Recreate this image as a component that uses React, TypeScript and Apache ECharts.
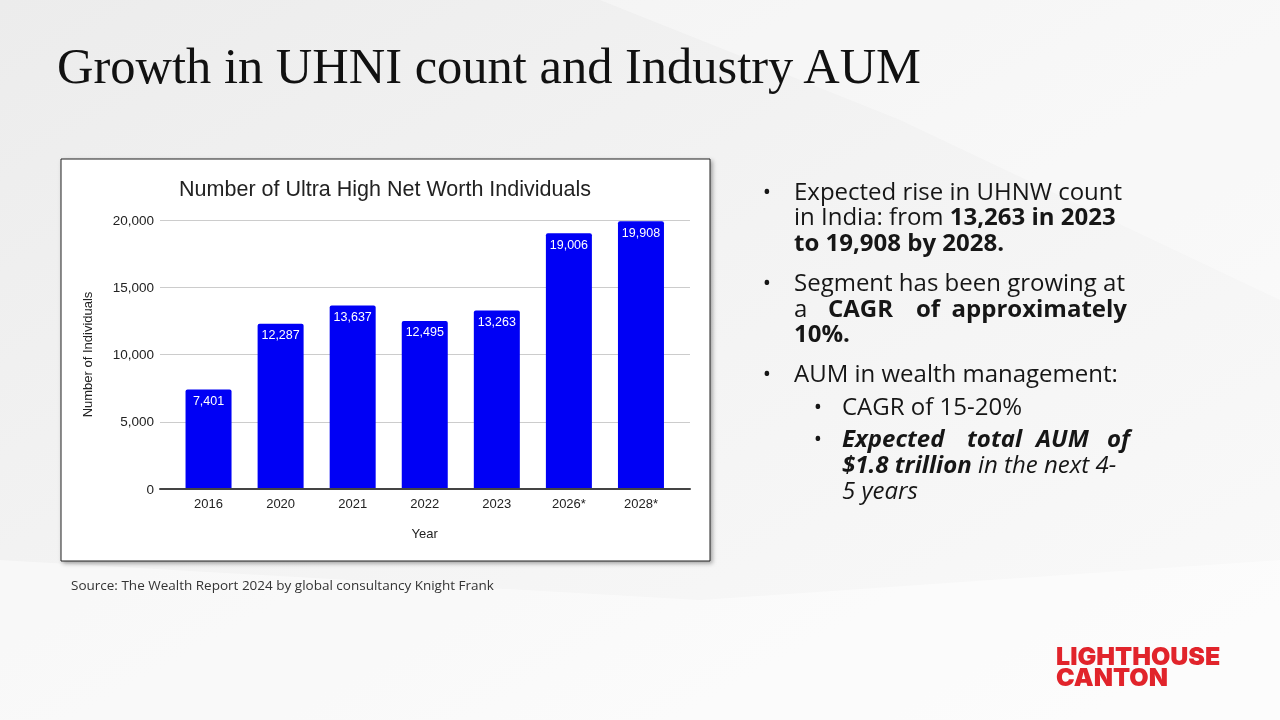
import React, { useEffect, useRef } from 'react';
import * as echarts from 'echarts';

const years = ['2016', '2020', '2021', '2022', '2023', '2026*', '2028*'];
const uhniCounts = [7401, 12287, 13637, 12495, 13263, 19006, 19908];
const yMin = 0;
const yMax = 20000;
const yInterval = 5000;

const slideTitle = 'Growth in UHNI count and Industry AUM';
const chartTitle = 'Number of Ultra High Net Worth Individuals';
const yAxisName = 'Number of Individuals';
const xAxisName = 'Year';
const sourceText = 'Source: The Wealth Report 2024 by global consultancy Knight Frank';

const fmt = (v: number) => v.toLocaleString('en-US');

const BODY = "'Open Sans', 'Noto Sans', sans-serif";
const TXT = '#161616';
const FS = 24;
const LH = 24;

function bulletText(x: number, y: number, text: string, rich?: any, extra: any = {}) {
  return {
    type: 'text',
    x,
    y,
    style: {
      text,
      fontFamily: BODY,
      fontSize: FS,
      lineHeight: LH,
      fill: TXT,
      verticalAlign: 'middle',
      rich,
      ...extra,
    },
  };
}

const richStyles = {
  r: { fontFamily: BODY, fontSize: FS, lineHeight: LH, color: TXT },
  b: { fontFamily: BODY, fontSize: FS, lineHeight: LH, color: TXT, fontWeight: 'bold' },
  bi: { fontFamily: BODY, fontSize: FS, lineHeight: LH, color: TXT, fontWeight: 'bold', fontStyle: 'italic' },
  i: { fontFamily: BODY, fontSize: FS, lineHeight: LH, color: TXT, fontStyle: 'italic' },
};

function dot(x: number, y: number) {
  return {
    type: 'text',
    x,
    y,
    style: { text: '•', fontFamily: BODY, fontSize: 22, lineHeight: 22, fill: TXT, verticalAlign: 'middle', align: 'center' },
  };
}

export default function App() {
  const ref = useRef<HTMLDivElement>(null);

  useEffect(() => {
    document.body.style.margin = '0';
    const chart = echarts.init(ref.current!, undefined, { renderer: 'svg' });

    const tx = 794;
    const stx = 842;
    const axisFont = "'Liberation Sans', Arial, sans-serif";

    const graphic: any[] = [
      {
        type: 'rect',
        z: -20,
        shape: { x: 0, y: 0, width: 1280, height: 720 },
        style: {
          fill: new echarts.graphic.LinearGradient(0, 0, 1, 1, [
            { offset: 0, color: '#ececec' },
            { offset: 0.45, color: '#f3f3f3' },
            { offset: 1, color: '#fafafa' },
          ]),
        },
      },
      {
        type: 'polygon',
        z: -19,
        shape: { points: [[0, 560], [700, 600], [1280, 560], [1280, 720], [0, 720]] },
        style: { fill: 'rgba(255,255,255,0.45)' },
      },
      {
        type: 'polygon',
        z: -19,
        shape: { points: [[600, 0], [1280, 0], [1280, 300], [900, 120]] },
        style: { fill: 'rgba(255,255,255,0.35)' },
      },
      {
        type: 'text',
        x: 57,
        y: 66,
        style: {
          text: slideTitle,
          fontFamily: "'Liberation Serif', 'DejaVu Serif', serif",
          fontSize: 50.5,
          fill: '#111',
          verticalAlign: 'middle',
        },
      },
      {
        type: 'rect',
        z: -10,
        shape: { x: 61, y: 159, width: 649, height: 402 },
        style: {
          fill: '#ffffff',
          stroke: '#222',
          lineWidth: 1,
          shadowBlur: 4,
          shadowOffsetX: 2,
          shadowOffsetY: 2,
          shadowColor: 'rgba(0,0,0,0.35)',
        },
      },
      {
        type: 'text',
        x: 385,
        y: 189,
        style: {
          text: chartTitle,
          fontFamily: axisFont,
          fontSize: 21.5,
          fill: '#222',
          align: 'center',
          verticalAlign: 'middle',
        },
      },
      {
        type: 'text',
        x: 71,
        y: 585,
        style: {
          text: sourceText,
          fontFamily: BODY,
          fontSize: 13.5,
          fill: '#333',
          verticalAlign: 'middle',
        },
      },
      // bullets
      dot(767, 190),
      bulletText(tx, 190, 'Expected rise in UHNW count'),
      bulletText(tx, 215, '{r|in India: from }{b|13,263 in 2023}', richStyles),
      bulletText(tx, 241, '{b|to 19,908 by 2028.}', richStyles),
      dot(767, 281),
      bulletText(tx, 281, 'Segment has been growing at'),
      bulletText(tx, 307, 'a'),
      bulletText(828, 307, '{b|CAGR}', richStyles),
      bulletText(916, 307, '{b|of}', richStyles),
      bulletText(1127, 307, '{b|approximately}', richStyles, { align: 'right' }),
      bulletText(tx, 332, '{b|10%.}', richStyles),
      dot(767, 372),
      bulletText(tx, 372, 'AUM in wealth management:'),
      dot(818, 405),
      bulletText(stx, 405, 'CAGR of 15-20%'),
      dot(818, 437),
      bulletText(stx, 437, '{bi|Expected}', richStyles),
      bulletText(967, 437, '{bi|total}', richStyles),
      bulletText(1036, 437, '{bi|AUM}', richStyles),
      bulletText(1130, 437, '{bi|of}', richStyles, { align: 'right' }),
      bulletText(stx, 463, '{bi|$1.8 trillion}{i| in the next 4-}', richStyles),
      bulletText(stx, 489, '{i|5 years}', richStyles),
      // logo
      {
        type: 'text',
        x: 1056,
        y: 666,
        style: {
          text: 'LIGHTHOUSE\nCANTON',
          fontFamily: "Inter, Roboto, sans-serif",
          fontWeight: 900,
          fontSize: 25,
          lineHeight: 21,
          fill: '#e1242b',
          verticalAlign: 'middle',
        },
      },
    ];

    chart.setOption({
      animation: false,
      graphic,
      grid: [
        { left: 160, right: 1280 - 690, top: 220, bottom: 720 - 489 },
        { left: 172.5, right: 1280 - 677, top: 220, bottom: 720 - 489 },
      ],
      xAxis: [
        {
          type: 'value',
          gridIndex: 0,
          min: 0,
          max: 1,
          z: 5,
          axisLine: { show: true, lineStyle: { color: '#444', width: 2 } },
          axisTick: { show: false },
          axisLabel: { show: false },
          splitLine: { show: false },
        },
        {
          type: 'category',
          gridIndex: 1,
          data: years,
          axisLine: { show: false },
          axisTick: { show: false },
          axisLabel: { color: '#222', fontSize: 13, fontFamily: axisFont, margin: 8 },
          name: xAxisName,
          nameLocation: 'middle',
          nameGap: 38,
          nameTextStyle: { color: '#222', fontSize: 13, fontFamily: axisFont },
        },
      ],
      yAxis: [
        {
          type: 'value',
          gridIndex: 0,
          min: yMin,
          max: yMax,
          interval: yInterval,
          axisLine: { show: false },
          axisTick: { show: false },
          axisLabel: { color: '#222', fontSize: 13.5, fontFamily: axisFont, margin: 6, formatter: (v: number) => fmt(v) },
          splitLine: { lineStyle: { color: '#cccccc', width: 1 } },
          name: yAxisName,
          nameLocation: 'middle',
          nameGap: 66,
          nameTextStyle: { color: '#222', fontSize: 13, fontFamily: axisFont },
        },
        {
          type: 'value',
          gridIndex: 1,
          min: yMin,
          max: yMax,
          interval: yInterval,
          show: false,
        },
      ],
      series: [
        {
          type: 'bar',
          xAxisIndex: 1,
          yAxisIndex: 1,
          data: uhniCounts,
          barWidth: 46,
          itemStyle: { color: '#0000f5', borderRadius: [2, 2, 0, 0] },
          label: {
            show: true,
            position: 'insideTop',
            distance: 5,
            color: '#ffffff',
            fontSize: 12.5,
            fontFamily: axisFont,
            formatter: (p: any) => fmt(p.value),
          },
        },
      ],
    });

    return () => chart.dispose();
  }, []);

  return <div ref={ref} style={{ position: 'fixed', left: 0, top: 0, width: 1280, height: 720 }} />;
}
